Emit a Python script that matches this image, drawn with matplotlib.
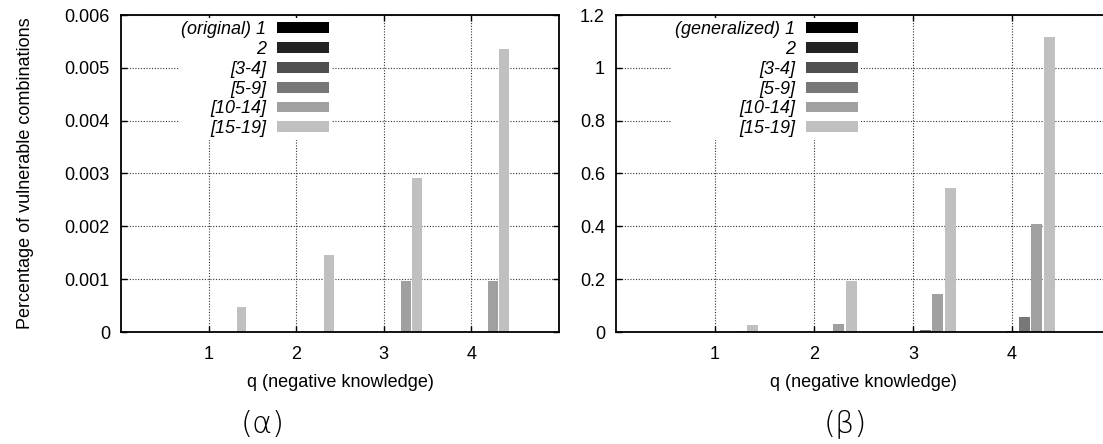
import numpy as np
import matplotlib
matplotlib.use("Agg")
import matplotlib.pyplot as plt

plt.rcParams['font.family'] = ['Liberation Sans', 'DejaVu Sans']

q_values = [1, 2, 3, 4]
group_names = ['1', '2', '[3-4]', '[5-9]', '[10-14]', '[15-19]']
bar_colors = ['#000000', '#222222', '#4f4f4f', '#777777', '#a0a0a0', '#c0c0c0']

# (a) original data, fraction of vulnerable combinations per group
orig_1 = [0, 0, 0, 0]
orig_2 = [0, 0, 0, 0]
orig_3_4 = [0, 0, 0, 0]
orig_5_9 = [0, 0, 0, 0]
orig_10_14 = [0, 0, 0.00097, 0.00097]
orig_15_19 = [0.00048, 0.00146, 0.00292, 0.00535]

# (b) generalized data
gen_1 = [0, 0, 0, 0]
gen_2 = [0, 0, 0, 0]
gen_3_4 = [0, 0, 0.001, 0.004]
gen_5_9 = [0, 0.001, 0.009, 0.058]
gen_10_14 = [0.002, 0.031, 0.143, 0.41]
gen_15_19 = [0.028, 0.194, 0.545, 1.117]

orig_series = [orig_1, orig_2, orig_3_4, orig_5_9, orig_10_14, orig_15_19]
gen_series = [gen_1, gen_2, gen_3_4, gen_5_9, gen_10_14, gen_15_19]

W, H = 1103, 444
fig = plt.figure(figsize=(W / 100, H / 100), dpi=100)
ax1 = fig.add_axes([121 / W, (H - 332) / H, 438 / W, 317 / H])
ax2 = fig.add_axes([616 / W, (H - 332) / H, 495 / W, 317 / H])

FS = 13


def draw_panel(ax, series, first_label, ymax, yticks, legend_x):
    x = np.array(q_values, dtype=float)
    for i, vals in enumerate(series):
        lab = group_names[i]
        if i == 0:
            lab = first_label + ' ' + lab
        ax.bar(x - 0.25 + 0.125 * i, vals, width=0.112, color=bar_colors[i],
               label=lab, zorder=3, linewidth=0)
    ax.set_xlim(0, 5)
    ax.set_ylim(0, ymax)
    ax.set_xticks(q_values)
    ax.set_yticks(yticks)
    ax.tick_params(direction='in', top=True, right=True, length=4,
                   width=1, labelsize=FS)
    ax.tick_params(axis='x', pad=10)
    ax.tick_params(axis='y', pad=8)
    ax.grid(True, linestyle=(0, (1, 1.5)), color='#333333', linewidth=0.8, zorder=0)
    ax.set_axisbelow(True)
    for sp in ax.spines.values():
        sp.set_linewidth(1.3)
        sp.set_zorder(5)
    ax.set_xlabel('q (negative knowledge)', fontsize=FS, labelpad=8)
    leg = ax.legend(loc='upper right', bbox_to_anchor=(legend_x, 0.99),
                    markerfirst=False, frameon=True,
                    prop={'style': 'italic', 'size': FS},
                    handlelength=2.9, handleheight=0.55, handletextpad=0.6,
                    labelspacing=0.16, borderpad=0.15, borderaxespad=0)
    leg.get_frame().set_linewidth(0)
    leg.get_frame().set_facecolor('white')
    leg.get_frame().set_alpha(1)
    leg.set_zorder(4)
    return leg


draw_panel(ax1, orig_series, '(original)', 0.006,
           [0, 0.001, 0.002, 0.003, 0.004, 0.005, 0.006], 0.482)
ax1.set_yticklabels(['0', '0.001', '0.002', '0.003', '0.004', '0.005', '0.006'])
ax1.set_ylabel('Percentage of vulnerable combinations', fontsize=FS, labelpad=22)

draw_panel(ax2, gen_series, '(generalized)', 1.2,
           [0, 0.2, 0.4, 0.6, 0.8, 1.0, 1.2], 0.495)
ax2.set_yticklabels(['0', '0.2', '0.4', '0.6', '0.8', '1', '1.2'])

fig.text(263 / W, 1 - 424 / H, '(α)', ha='center', va='center', fontsize=22,
         family=['DejaVu Sans'], fontweight='light')
fig.text(845 / W, 1 - 424 / H, '(β)', ha='center', va='center', fontsize=22,
         family=['DejaVu Sans'], fontweight='light')

fig.savefig('out.png', dpi=100)
